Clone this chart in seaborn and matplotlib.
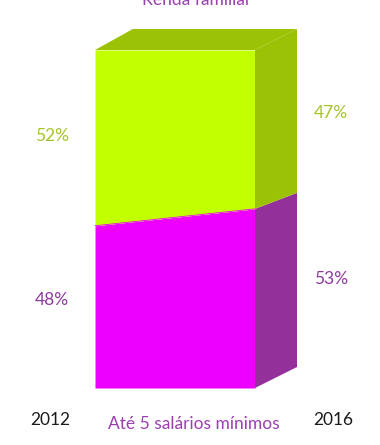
import matplotlib
matplotlib.use("Agg")
import matplotlib.pyplot as plt
import seaborn as sns
import pandas as pd
from matplotlib.patches import Polygon

# ---- data ----
years = ["2012", "2016"]
low_income = [48, 53]      # Até 5 salários mínimos (%)
high_income = [52, 47]     # other share (%)
title = "Renda familiar"
bottom_label = "Até 5 salários mínimos"

sns.set_theme(style="white")
plt.rcParams['font.family'] = ['Lato', 'DejaVu Sans']

W, H = 380, 445
fig = plt.figure(figsize=(W / 100, H / 100), dpi=100)
ax = fig.add_axes([0, 0, 1, 1])

# pixel mapping: front face x 95..255 px -> 0..1 ; y 388..50 px -> 0..100
px_x = 160.0
px_y = 3.38
ax.set_xlim(-95 / px_x, (W - 95) / px_x)
ax.set_ylim(-(H - 388) / px_y, 388 / px_y)
ax.axis("off")

lime = "#C2FF00"
dgreen = "#9CC206"
magenta = "#EE00FF"
purple = "#93309A"
txt_green = "#A3C52A"
txt_purple = "#8E3A9E"

depth_x = 42 / px_x
depth_y = 21 / px_y
split_rise = 16 / px_y

df = pd.DataFrame({"x": [0, 1], "low": low_income, "high": high_income, "year": years})

# front face
ax.fill_between(df["x"], 0, df["low"], color=magenta, lw=0)
ax.fill_between(df["x"], df["low"], 100, color=lime, lw=0)
sns.lineplot(data=df, x="x", y="low", ax=ax, color=magenta, lw=0.6)

# side face
v = low_income[1]
ax.add_patch(Polygon([(1, 0), (1 + depth_x, depth_y), (1 + depth_x, v + split_rise), (1, v)],
                     closed=True, color=purple, lw=0))
ax.add_patch(Polygon([(1, v), (1 + depth_x, v + split_rise), (1 + depth_x, 100 + depth_y), (1, 100)],
                     closed=True, color=dgreen, lw=0))
# top face
ax.add_patch(Polygon([(0, 100), (depth_x * 0.9, 100 + depth_y), (1 + depth_x, 100 + depth_y), (1, 100)],
                     closed=True, color=dgreen, lw=0))

def px(x, y):
    return ((x - 95) / px_x, (388 - y) / px_y)

fs = 12.5
ax.text(*px(52, 136), f"{high_income[0]}%", color=txt_green, fontsize=fs, ha="center", va="center")
ax.text(*px(52, 300), f"{low_income[0]}%", color=txt_purple, fontsize=fs, ha="center", va="center")
ax.text(*px(331, 113), f"{high_income[1]}%", color=txt_green, fontsize=fs, ha="center", va="center")
ax.text(*px(331, 279), f"{low_income[1]}%", color=txt_purple, fontsize=fs, ha="center", va="center")

ax.text(*px(50, 425), years[0], color="#1a1a1a", fontsize=fs, ha="center", va="baseline")
ax.text(*px(333, 425), years[1], color="#1a1a1a", fontsize=fs, ha="center", va="baseline")
ax.text(*px(194, 429), bottom_label, color="#9B3FB0", fontsize=fs, ha="center", va="baseline")
ax.text(*px(197, 5), title, color="#9B3FB0", fontsize=fs, ha="center", va="baseline")

fig.savefig("out.png", dpi=100)
